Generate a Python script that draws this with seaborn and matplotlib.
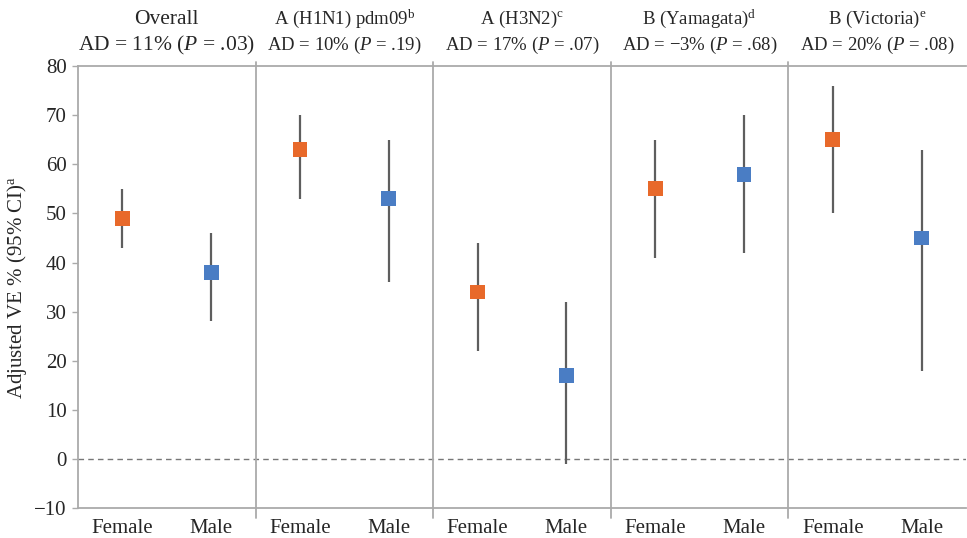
import numpy as np
import pandas as pd
import matplotlib
matplotlib.use("Agg")
import matplotlib.pyplot as plt
import seaborn as sns

# data
groups = ["Overall", "A (H1N1) pdm09", "A (H3N2)", "B (Yamagata)", "B (Victoria)"]
group_titles = ["Overall",
                r"A (H1N1) pdm09$^{\mathrm{b}}$",
                r"A (H3N2)$^{\mathrm{c}}$",
                r"B (Yamagata)$^{\mathrm{d}}$",
                r"B (Victoria)$^{\mathrm{e}}$"]
ad_text = [r"AD = 11% ($P$ = .03)",
           r"AD = 10% ($P$ = .19)",
           r"AD = 17% ($P$ = .07)",
           r"AD = $-$3% ($P$ = .68)",
           r"AD = 20% ($P$ = .08)"]
sexes = ["Female", "Male"]
female_ve = [49, 63, 34, 55, 65]
female_lo = [43, 53, 22, 41, 50]
female_hi = [55, 70, 44, 65, 76]
male_ve = [38, 53, 17, 58, 45]
male_lo = [28, 36, -1, 42, 18]
male_hi = [46, 65, 32, 70, 63]

rows = []
for i, g in enumerate(groups):
    rows.append(dict(group=g, sex="Female", pos=2 * i, ve=female_ve[i], lo=female_lo[i], hi=female_hi[i]))
    rows.append(dict(group=g, sex="Male", pos=2 * i + 1, ve=male_ve[i], lo=male_lo[i], hi=male_hi[i]))
df = pd.DataFrame(rows)

sns.set_theme(style="white")
plt.rcParams["font.family"] = ["Liberation Serif", "DejaVu Serif"]
plt.rcParams["mathtext.fontset"] = "custom"
plt.rcParams["mathtext.rm"] = "Liberation Serif"
plt.rcParams["mathtext.it"] = "Liberation Serif:italic"
plt.rcParams["mathtext.bf"] = "Liberation Serif:bold"

fig = plt.figure(figsize=(9.67, 5.38), dpi=100)
ax = fig.add_axes([0.0807, 0.0558, 0.9183, 0.8212])

# CI lines
ax.vlines(df["pos"], df["lo"], df["hi"], color="#5e5e5e", lw=1.6, zorder=2)

sns.scatterplot(data=df, x="pos", y="ve", hue="sex", hue_order=sexes,
                palette={"Female": "#e8692a", "Male": "#4a7dc4"},
                marker="s", s=115, edgecolor="none", legend=False, zorder=3, ax=ax)

ax.axhline(0, color="#777777", lw=1.0, ls=(0, (4, 3)), zorder=1)

for b in [1.5, 3.5, 5.5, 7.5]:
    ax.plot([b, b], [-12.0, 80.8], color="#aaaaaa", lw=1.3, clip_on=False, zorder=1)

ax.set_xlim(-0.5, 9.5)
ax.set_ylim(-10, 80)
ax.set_yticks(range(-10, 81, 10))
ax.set_yticklabels(["\u221210"] + [str(v) for v in range(0, 81, 10)])
ax.set_xticks(df["pos"])
ax.set_xticklabels(df["sex"])
ax.tick_params(axis="y", left=True, length=4, width=1, color="#aaaaaa", labelsize=15, pad=4)
ax.tick_params(axis="x", bottom=False, labelsize=15, pad=2)
ax.set_xlabel("")
ax.set_ylabel(r"Adjusted VE % (95% CI)$^{\mathrm{a}}$", fontsize=15, labelpad=4)

for side in ["left", "bottom", "top"]:
    ax.spines[side].set_color("#aaaaaa")
    ax.spines[side].set_linewidth(1.3)
ax.spines["right"].set_visible(False)

for i in range(len(groups)):
    fs = 15.5 if i == 0 else 13.5
    ax.text(2 * i + 0.5, 89.6, group_titles[i], ha="center", va="center", fontsize=fs, clip_on=False)
    ax.text(2 * i + 0.5, 84.3, ad_text[i], ha="center", va="center", fontsize=fs, clip_on=False)

fig.savefig("out.png", dpi=100)
